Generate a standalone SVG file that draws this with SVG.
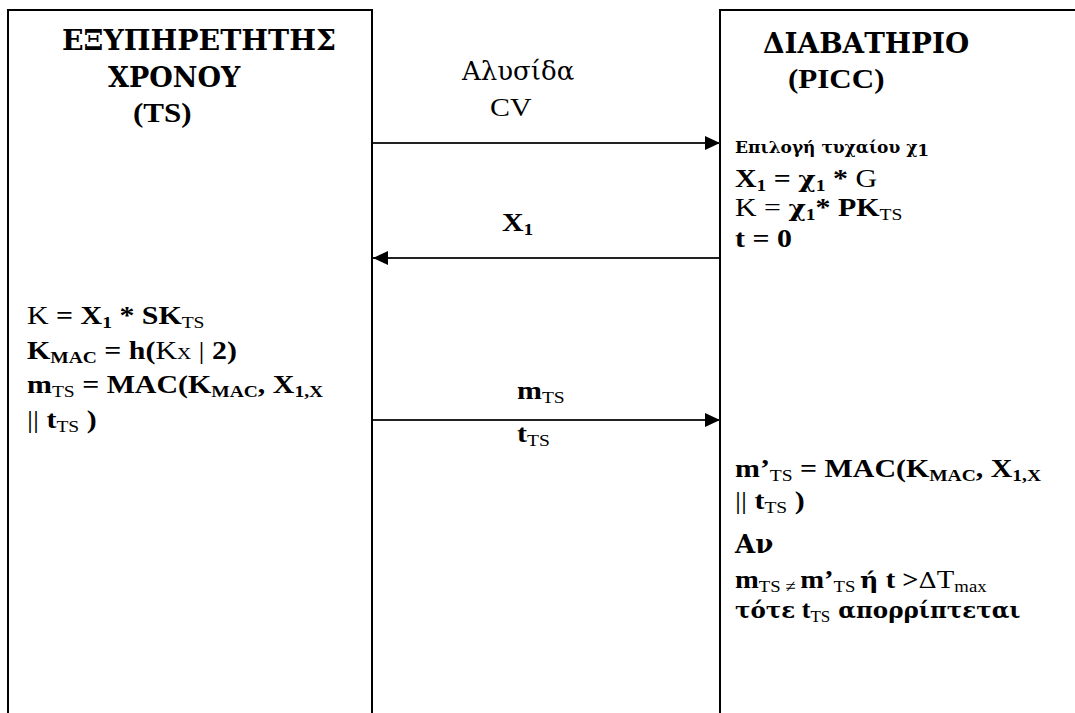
<svg xmlns="http://www.w3.org/2000/svg" width="1075" height="713" viewBox="0 0 1075 713">
  <style>
    .f{font-family:"Liberation Serif","Times New Roman",serif;font-size:26px;fill:#000;font-weight:bold}
    .g{font-family:"DejaVu Serif","Liberation Serif",serif}
    .gs{font-size:23px}
    .r{font-weight:normal}
    .s{font-size:17px}
    .h{font-size:27px}
    .sm{font-size:17px}
    .frame{fill:none;stroke:#000;stroke-width:2}
    .msg{stroke:#222;stroke-width:2;fill:none}
  </style>
  <defs>
    <marker id="head" markerUnits="userSpaceOnUse" markerWidth="15" markerHeight="14" refX="15" refY="7" orient="auto">
      <path d="M0,0 L15,7 L0,14 z" fill="#000"/>
    </marker>
  </defs>
  <rect width="1075" height="713" fill="#fff"/>

  <!-- Time server (TS) lifeline box -->
  <g id="ts">
    <path class="frame" d="M8,713 V10 H372 V713"/>
    <text class="f g h" transform="matrix(1.05 0 0 1 62 50)">ΕΞΥΠΗΡΕΤΗΤΗΣ</text>
    <text class="f g h" x="108" y="87">ΧΡΟΝΟΥ</text>
    <text class="f h" transform="matrix(1.15 0 0 1 133 122)">(TS)</text>
    <text class="f" transform="matrix(1.15 0 0 1 27 324)"><tspan class="r">K</tspan> = X<tspan class="s" dy="4">1</tspan><tspan dy="-4"> * SK</tspan><tspan class="s r" dy="4">TS</tspan></text>
    <text class="f" transform="matrix(1.15 0 0 1 27 359)">K<tspan class="s" dy="4">MAC</tspan><tspan dy="-4"> = h(</tspan><tspan class="r">K</tspan><tspan class="r s">X</tspan><tspan class="r"> | </tspan>2)</text>
    <text class="f" transform="matrix(1.15 0 0 1 27 393)">m<tspan class="s r" dy="4">TS</tspan><tspan dy="-4"> = MAC(K</tspan><tspan class="s" dy="4">MAC</tspan><tspan dy="-4">, X</tspan><tspan class="s" dy="4">1,X</tspan></text>
    <text class="f" transform="matrix(1.15 0 0 1 27 428)"><tspan class="r">||</tspan> t<tspan class="s r" dy="4">TS</tspan><tspan dy="-4"> )</tspan></text>
  </g>

  <!-- Passport (PICC) lifeline box -->
  <g id="picc">
    <path class="frame" d="M720,713 V10 H1075"/>
    <text class="f g h" transform="matrix(1.03 0 0 1 763 53)">ΔΙΑΒΑΤΗΡΙΟ</text>
    <text class="f h" transform="matrix(1.15 0 0 1 788 88)">(PICC)</text>
    <text class="f g sm" x="735" y="153">Επιλογή τυχαίου χ<tspan class="s" font-size="14" dy="3">1</tspan></text>
    <text class="f" transform="matrix(1.15 0 0 1 735 187)">X<tspan class="s" dy="4">1</tspan><tspan dy="-4"> = </tspan><tspan class="g gs">χ</tspan><tspan class="s" dy="4">1</tspan><tspan dy="-4"> * </tspan><tspan class="r">G</tspan></text>
    <text class="f" transform="matrix(1.15 0 0 1 735 216)"><tspan class="r">K = </tspan><tspan class="g gs">χ</tspan><tspan class="s" dy="4">1</tspan><tspan dy="-4">* PK</tspan><tspan class="s r" dy="4">TS</tspan></text>
    <text class="f" transform="matrix(1.15 0 0 1 735 247)">t = 0</text>
    <text class="f" transform="matrix(1.15 0 0 1 735 477)">m’<tspan class="s r" dy="4">TS</tspan><tspan dy="-4"> = MAC(K</tspan><tspan class="s" dy="4">MAC</tspan><tspan dy="-4">, X</tspan><tspan class="s" dy="4">1,X</tspan></text>
    <text class="f" transform="matrix(1.15 0 0 1 735 509)"><tspan class="r">||</tspan> t<tspan class="s r" dy="4">TS</tspan><tspan dy="-4"> )</tspan></text>
    <text class="f g" font-size="25" x="735" y="553">Αν</text>
    <text class="f" transform="matrix(1.1 0 0 1 735 588)">m<tspan class="s r" dy="4">TS ≠ </tspan><tspan dy="-4">m’</tspan><tspan class="s r" dy="4">TS </tspan><tspan dy="-4" class="g gs">ή</tspan><tspan>  t &gt;</tspan><tspan class="r g gs">Δ</tspan><tspan class="r">T</tspan><tspan class="s r" dy="4">max</tspan></text>
    <text class="f" x="735" y="618"><tspan class="g gs">τότε</tspan> t<tspan class="s r" dy="4">TS</tspan><tspan dy="-4" class="g gs"> απορρίπτεται</tspan></text>
  </g>

  <!-- Messages exchanged between the two parties -->
  <g id="connectors">
    <line class="msg" x1="373" y1="143" x2="720" y2="143" marker-end="url(#head)"/>
    <line class="msg" x1="719" y1="258" x2="373" y2="258" marker-end="url(#head)"/>
    <line class="msg" x1="373" y1="420" x2="720" y2="420" marker-end="url(#head)"/>
  </g>

  <g id="labels">
    <text class="f g r" x="462" y="80">Αλυσίδα</text>
    <text class="f r" transform="matrix(1.15 0 0 1 490 116)">CV</text>
    <text class="f" transform="matrix(1.15 0 0 1 502 231)">X<tspan class="s" dy="4">1</tspan></text>
    <text class="f" transform="matrix(1.15 0 0 1 517 399)">m<tspan class="s r" dy="4">TS</tspan></text>
    <text class="f" transform="matrix(1.15 0 0 1 517 442)">t<tspan class="s r" dy="4">TS</tspan></text>
  </g>
</svg>
